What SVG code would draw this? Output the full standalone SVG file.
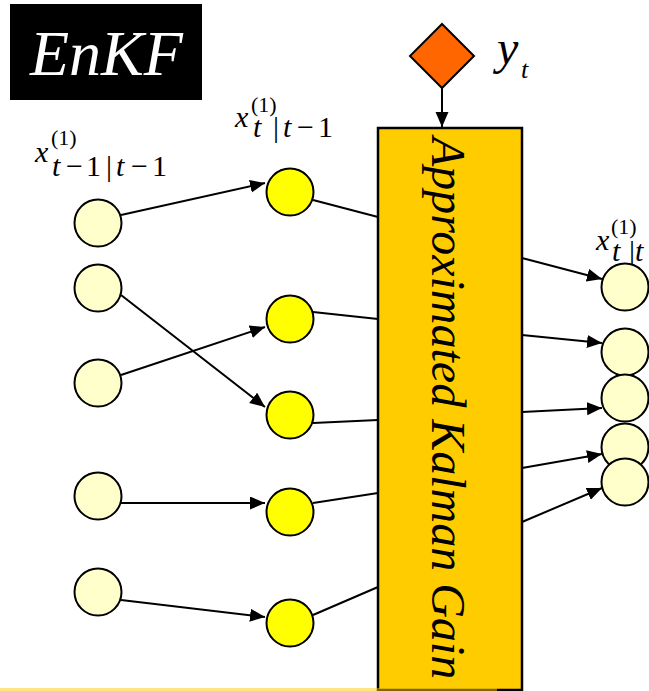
<svg xmlns="http://www.w3.org/2000/svg" width="649" height="691" viewBox="0 0 649 691">
<defs>
<marker id="ah" markerUnits="userSpaceOnUse" markerWidth="16" markerHeight="14" refX="15" refY="6.5" orient="auto">
<path d="M0,0 L15,6.5 L0,13 z" fill="#000"/>
</marker>
</defs>
<rect width="649" height="691" fill="#fff"/>

<g id="title">
<rect x="10" y="4" width="192" height="96" fill="#000"/>
<text x="30" y="75" font-size="64" font-style="italic" fill="#fff" style="font-family:'Liberation Serif','Times New Roman',serif !important">EnKF</text>
</g>

<g id="label-prior">
<text x="35" y="162" font-size="30" font-style="italic" style="font-family:'Liberation Serif','Times New Roman',serif !important">x</text>
<text x="51" y="145" font-size="22" style="font-family:'Liberation Serif','Times New Roman',serif !important">(1)</text>
<text y="176" font-size="30" style="font-family:'Liberation Serif','Times New Roman',serif !important"><tspan x="52" font-style="italic">t</tspan><tspan x="66">&#8722;</tspan><tspan x="86">1</tspan><tspan x="106">|</tspan><tspan x="116" font-style="italic">t</tspan><tspan x="131">&#8722;</tspan><tspan x="152">1</tspan></text>
</g>
<g id="label-forecast">
<text x="235" y="127" font-size="30" font-style="italic" style="font-family:'Liberation Serif','Times New Roman',serif !important">x</text>
<text x="251" y="112" font-size="22" style="font-family:'Liberation Serif','Times New Roman',serif !important">(1)</text>
<text y="137" font-size="30" style="font-family:'Liberation Serif','Times New Roman',serif !important"><tspan x="253" font-style="italic">t</tspan><tspan x="273">|</tspan><tspan x="283" font-style="italic">t</tspan><tspan x="297">&#8722;</tspan><tspan x="318">1</tspan></text>
</g>
<g id="label-analysis">
<text x="596" y="250" font-size="30" font-style="italic" style="font-family:'Liberation Serif','Times New Roman',serif !important">x</text>
<text x="611" y="234" font-size="22" style="font-family:'Liberation Serif','Times New Roman',serif !important">(1)</text>
<text y="261" font-size="30" style="font-family:'Liberation Serif','Times New Roman',serif !important"><tspan x="612" font-style="italic">t</tspan><tspan x="629">|</tspan><tspan x="635" font-style="italic">t</tspan></text>
</g>

<g id="connectors" stroke="#000" stroke-width="2">
<line marker-end="url(#ah)" x1="442" y1="88" x2="442" y2="127"/>
<line marker-end="url(#ah)" x1="121" y1="215" x2="265" y2="183"/>
<line marker-end="url(#ah)" x1="121" y1="295" x2="265" y2="407"/>
<line marker-end="url(#ah)" x1="121" y1="375" x2="265" y2="327"/>
<line marker-end="url(#ah)" x1="121" y1="503" x2="265" y2="503"/>
<line marker-end="url(#ah)" x1="121" y1="600" x2="265" y2="617"/>
<line x1="313" y1="200" x2="378" y2="217"/>
<line x1="313" y1="312" x2="378" y2="319"/>
<line x1="313" y1="423" x2="378" y2="420"/>
<line x1="313" y1="503" x2="378" y2="493"/>
<line x1="313" y1="615" x2="378" y2="587"/>
<line marker-end="url(#ah)" x1="522" y1="258" x2="602" y2="279"/>
<line marker-end="url(#ah)" x1="522" y1="335" x2="602" y2="343"/>
<line marker-end="url(#ah)" x1="522" y1="412" x2="602" y2="408"/>
<line marker-end="url(#ah)" x1="522" y1="468" x2="602" y2="454"/>
<line marker-end="url(#ah)" x1="522" y1="522" x2="602" y2="488"/>
</g>

<g id="obs">
<polygon points="442,24 474,56 442,88 410,56" fill="#FF6600" stroke="#000" stroke-width="2"/>
<text x="497" y="64" font-size="48" font-style="italic" style="font-family:'Liberation Serif','Times New Roman',serif !important">y</text>
<text x="521" y="78" font-size="26" font-style="italic" style="font-family:'Liberation Serif','Times New Roman',serif !important">t</text>
</g>

<g id="gain">
<rect x="378" y="128" width="144" height="562" fill="#FFCC00" stroke="#000" stroke-width="2.5"/>
<text transform="translate(432,137) rotate(90)" font-size="48" font-style="italic" style="font-family:'Liberation Serif','Times New Roman',serif !important">Approximated Kalman Gain</text>
</g>

<g stroke="#000" stroke-width="2" fill="#FFFFCC">
<g id="prior-1"><circle cx="98" cy="223" r="23.5"/></g>
<g id="prior-2"><circle cx="98" cy="288" r="23.5"/></g>
<g id="prior-3"><circle cx="98" cy="383" r="23.5"/></g>
<g id="prior-4"><circle cx="98" cy="496" r="23.5"/></g>
<g id="prior-5"><circle cx="98" cy="592" r="23.5"/></g>
</g>
<g stroke="#000" stroke-width="2" fill="#FFFF00">
<g id="fc-1"><circle cx="290" cy="192" r="23.5"/></g>
<g id="fc-2"><circle cx="290" cy="319" r="23.5"/></g>
<g id="fc-3"><circle cx="290" cy="415" r="23.5"/></g>
<g id="fc-4"><circle cx="290" cy="512" r="23.5"/></g>
<g id="fc-5"><circle cx="290" cy="623" r="23.5"/></g>
</g>
<g stroke="#000" stroke-width="2" fill="#FFFFCC">
<g id="an-1"><circle cx="625" cy="287" r="23.5"/></g>
<g id="an-2"><circle cx="625" cy="352" r="23.5"/></g>
<g id="an-3"><circle cx="625" cy="398" r="23.5"/></g>
<g id="an-4"><circle cx="625" cy="447" r="23.5"/></g>
<g id="an-5"><circle cx="625" cy="482" r="23.5"/></g>
</g>

<rect x="0" y="688" width="497" height="3" fill="#FFCC00" fill-opacity="0.5"/>
</svg>
